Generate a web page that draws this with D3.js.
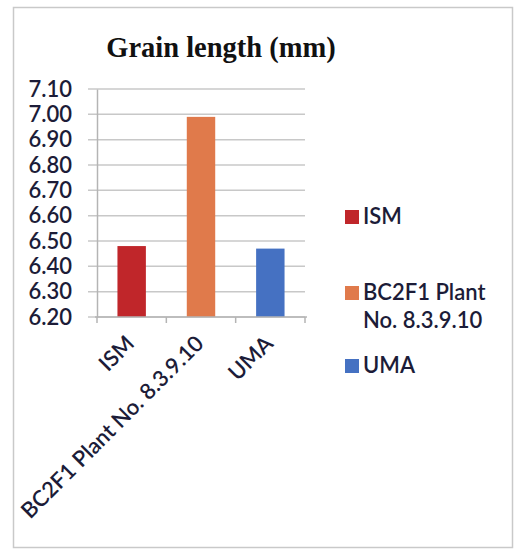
<!DOCTYPE html>
<html>
<head>
<meta charset="utf-8">
<script src="https://cdn.jsdelivr.net/npm/d3@7/dist/d3.min.js"></script>
<style>
  html, body { margin: 0; padding: 0; background: #fff; }
  svg { display: block; }
</style>
</head>
<body>
<svg id="chart" width="518" height="553"></svg>
<script>
// Grain length (mm) per line
const categories = ["ISM", "BC2F1 Plant No. 8.3.9.10", "UMA"];
const values = [6.48, 6.99, 6.47];
const colors = ["#c0262a", "#e07a4b", "#4571c2"];
const legendLines = [["ISM"], ["BC2F1 Plant", "No. 8.3.9.10"], ["UMA"]];
const yTicks = [6.20, 6.30, 6.40, 6.50, 6.60, 6.70, 6.80, 6.90, 7.00, 7.10];

const svg = d3.select("#chart");
const textColor = "#1c1c38";
const labelFont = "Lato, 'Open Sans', sans-serif";
const labelWeight = 600;

// outer frame
svg.append("rect")
  .attr("x", 13.5).attr("y", 7.5)
  .attr("width", 499).attr("height", 540)
  .attr("fill", "#fff")
  .attr("stroke", "#c9c9c9")
  .attr("stroke-width", 1.5);

// title
svg.append("text")
  .attr("x", 221).attr("y", 57)
  .attr("text-anchor", "middle")
  .attr("font-family", "'Liberation Serif', 'Times New Roman', serif")
  .attr("font-weight", "bold")
  .attr("font-size", 28.5)
  .attr("fill", "#111")
  .text("Grain length (mm)");

const plot = { left: 97, right: 305, top: 89, bottom: 317 };

const x = d3.scaleBand()
  .domain(categories)
  .range([plot.left, plot.right])
  .padding(0);

const y = d3.scaleLinear()
  .domain([6.2, 7.1])
  .range([plot.bottom, plot.top]);

// horizontal gridlines
svg.append("g")
  .selectAll("line")
  .data(yTicks)
  .join("line")
  .attr("x1", plot.left - 9)
  .attr("x2", plot.right)
  .attr("y1", d => y(d))
  .attr("y2", d => y(d))
  .attr("stroke", "#c8c8c8")
  .attr("stroke-width", 1.5);

// y axis
const yAxis = d3.axisLeft(y)
  .tickValues(yTicks)
  .tickFormat(d3.format(".2f"))
  .tickSize(0)
  .tickPadding(25);

const gy = svg.append("g")
  .attr("transform", `translate(${plot.left},0)`)
  .call(yAxis);
gy.select(".domain").attr("stroke", "#b4b4b4").attr("stroke-width", 1.5);
gy.selectAll("text")
  .attr("font-family", labelFont)
  .attr("font-weight", labelWeight)
  .attr("font-size", 22)
  .attr("fill", textColor);

// bars
const barW = x.bandwidth() * 0.41;
svg.append("g")
  .selectAll("rect")
  .data(categories)
  .join("rect")
  .attr("x", d => x(d) + (x.bandwidth() - barW) / 2)
  .attr("y", (d, i) => y(values[i]))
  .attr("width", barW)
  .attr("height", (d, i) => y(6.2) - y(values[i]))
  .attr("fill", (d, i) => colors[i]);

// x axis with ticks at band boundaries
const gx = svg.append("g")
  .attr("transform", `translate(0,${plot.bottom})`);
gx.append("line")
  .attr("x1", plot.left - 2).attr("x2", plot.right + 2)
  .attr("stroke", "#b4b4b4").attr("stroke-width", 1.5);
const boundaries = categories.map(c => x(c)).concat([plot.right]);
gx.selectAll("line.tick")
  .data(boundaries)
  .join("line")
  .attr("class", "tick")
  .attr("x1", d => d).attr("x2", d => d)
  .attr("y1", 0).attr("y2", 6)
  .attr("stroke", "#b4b4b4").attr("stroke-width", 1.5);

// rotated category labels
gx.selectAll("text")
  .data(categories)
  .join("text")
  .attr("transform", d => `translate(${x(d) + x.bandwidth() / 2 + 4},${28}) rotate(-45)`)
  .attr("text-anchor", "end")
  .attr("font-family", labelFont)
  .attr("font-weight", labelWeight)
  .attr("font-size", 22)
  .attr("fill", textColor)
  .text(d => d);

// legend
const legendY = [224, 300, 373];
const legend = svg.append("g");
categories.forEach((c, i) => {
  legend.append("rect")
    .attr("x", 345).attr("y", legendY[i] - 14)
    .attr("width", 14).attr("height", 14)
    .attr("fill", colors[i]);
  legend.append("text")
    .attr("x", 363).attr("y", legendY[i])
    .attr("font-family", labelFont)
    .attr("font-weight", labelWeight)
    .attr("font-size", 22)
    .attr("fill", textColor)
    .selectAll("tspan")
    .data(legendLines[i])
    .join("tspan")
    .attr("x", 363)
    .attr("dy", (d, j) => j === 0 ? 0 : 28)
    .text(d => d);
});
</script>
</body>
</html>
